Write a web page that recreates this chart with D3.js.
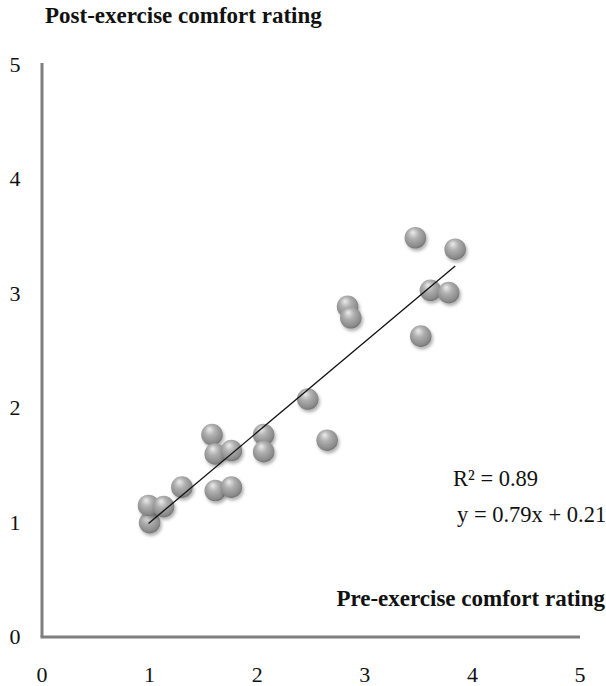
<!DOCTYPE html>
<html>
<head>
<meta charset="utf-8">
<script src="https://cdn.jsdelivr.net/npm/d3@7"></script>
<style>
  body { margin: 0; background: #fff; }
  text { font-family: "Liberation Serif", "Times New Roman", serif; fill: #111; }
</style>
</head>
<body>
<div id="chart"></div>
<script>
// pre-exercise (x) and post-exercise (y) comfort ratings
var preRating = [1.0, 0.99, 1.13, 1.30, 1.58, 1.61, 1.76, 1.61, 1.76, 2.06, 2.06, 2.47, 2.65, 2.84, 2.87, 3.47, 3.84, 3.61, 3.78, 3.52];
var postRating = [1.0, 1.15, 1.14, 1.31, 1.77, 1.60, 1.63, 1.28, 1.31, 1.77, 1.62, 2.08, 1.72, 2.89, 2.79, 3.49, 3.39, 3.03, 3.01, 2.63];
var xTicks = [0, 1, 2, 3, 4, 5];
var yTicks = [0, 1, 2, 3, 4, 5];
var slope = 0.79, intercept = 0.21;

var width = 606, height = 686;
var svg = d3.select('#chart').append('svg')
	.attr('width', width)
	.attr('height', height);

var x = d3.scaleLinear().domain([0, 5]).range([42, 580]);
var y = d3.scaleLinear().domain([0, 5]).range([637, 65]);

// sphere gradient + shadow
var defs = svg.append('defs');
var grad = defs.append('radialGradient')
	.attr('id', 'ball')
	.attr('cx', '45%').attr('cy', '40%').attr('r', '62%')
	.attr('fx', '38%').attr('fy', '25%');
grad.append('stop').attr('offset', '0%').attr('stop-color', '#ececec');
grad.append('stop').attr('offset', '40%').attr('stop-color', '#b0b0b0');
grad.append('stop').attr('offset', '85%').attr('stop-color', '#8a8a8a');
grad.append('stop').attr('offset', '100%').attr('stop-color', '#6e6e6e');
var filt = defs.append('filter').attr('id', 'shadow')
	.attr('x', '-50%').attr('y', '-50%').attr('width', '200%').attr('height', '200%');
filt.append('feDropShadow')
	.attr('dx', 1.5).attr('dy', 2.5).attr('stdDeviation', 1.8)
	.attr('flood-color', '#000').attr('flood-opacity', 0.3);

// axes lines
svg.append('line')
	.attr('x1', x(0)).attr('x2', x(0))
	.attr('y1', y(5) - 2).attr('y2', y(0))
	.attr('stroke', '#7f7f7f').attr('stroke-width', 3);
svg.append('line')
	.attr('x1', x(0) - 1.5).attr('x2', x(5))
	.attr('y1', y(0)).attr('y2', y(0))
	.attr('stroke', '#7f7f7f').attr('stroke-width', 3);

// tick labels
svg.selectAll('.xtick')
	.data(xTicks)
	.enter().append('text')
	.attr('class', 'xtick')
	.attr('x', function (d) { return x(d); })
	.attr('y', 682)
	.attr('text-anchor', 'middle')
	.attr('font-size', 22)
	.text(function (d) { return d; });

svg.selectAll('.ytick')
	.data(yTicks)
	.enter().append('text')
	.attr('class', 'ytick')
	.attr('x', 15)
	.attr('y', function (d) { return y(d) + 7; })
	.attr('text-anchor', 'middle')
	.attr('font-size', 22)
	.text(function (d) { return d; });

// axis titles
svg.append('text')
	.attr('x', 45).attr('y', 23)
	.attr('font-size', 23).attr('font-weight', 'bold')
	.text('Post-exercise comfort rating');
svg.append('text')
	.attr('x', 605).attr('y', 606)
	.attr('text-anchor', 'end')
	.attr('font-size', 23).attr('font-weight', 'bold')
	.text('Pre-exercise comfort rating');

// points
var pts = preRating.map(function (d, i) { return { x: d, y: postRating[i] }; });
svg.selectAll('.dot')
	.data(pts)
	.enter().append('circle')
	.attr('class', 'dot')
	.attr('cx', function (d) { return x(d.x); })
	.attr('cy', function (d) { return y(d.y); })
	.attr('r', 10.8)
	.attr('fill', 'url(#ball)')
	.attr('filter', 'url(#shadow)');

// trend line
var xMin = d3.min(preRating), xMax = d3.max(preRating);
svg.append('line')
	.attr('x1', x(xMin)).attr('y1', y(slope * xMin + intercept))
	.attr('x2', x(xMax)).attr('y2', y(slope * xMax + intercept))
	.attr('stroke', '#111').attr('stroke-width', 1.3);

// equation
svg.append('text')
	.attr('x', 453).attr('y', 486)
	.attr('font-size', 22.5)
	.text('R² = 0.89');
svg.append('text')
	.attr('x', 457).attr('y', 522)
	.attr('font-size', 22.5)
	.text('y = 0.79x + 0.21');
</script>
</body>
</html>
